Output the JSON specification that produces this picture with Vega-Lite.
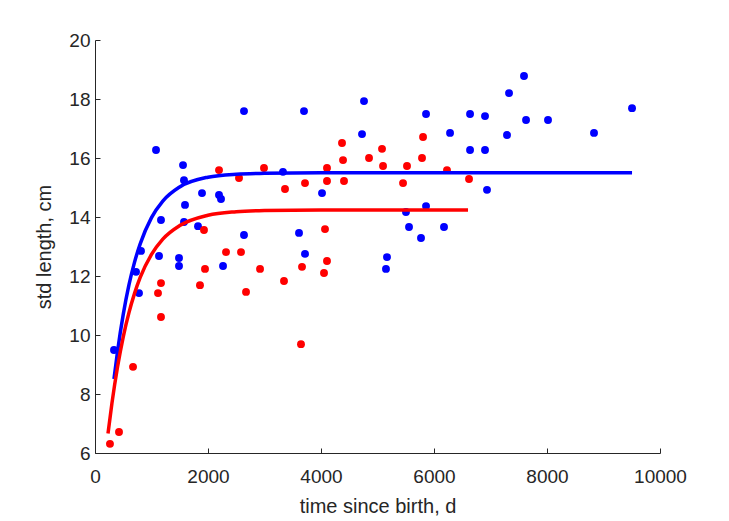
{
  "$schema": "https://vega.github.io/schema/vega-lite/v6.json",
  "width": 565,
  "height": 413,
  "autosize": {"type": "none"},
  "padding": {"left": 95, "top": 40, "right": 69, "bottom": 68},
  "background": "white",
  "config": {
    "view": {"stroke": null},
    "font": "Liberation Sans",
    "axis": {
      "domainColor": "#262626",
      "tickColor": "#262626",
      "labelColor": "#262626",
      "titleColor": "#262626",
      "labelFont": "Liberation Sans",
      "titleFont": "Liberation Sans",
      "labelFontSize": 19,
      "titleFontSize": 20,
      "titleFontWeight": "normal",
      "labelFlush": false,
      "grid": false,
      "domainWidth": 1,
      "tickWidth": 1
    }
  },
  "datasets": {
    "pts": [
      {"t": 336, "L": 9.49, "g": "b"},
      {"t": 726, "L": 12.14, "g": "b"},
      {"t": 779, "L": 11.42, "g": "b"},
      {"t": 814, "L": 12.85, "g": "b"},
      {"t": 1133, "L": 12.68, "g": "b"},
      {"t": 1487, "L": 12.61, "g": "b"},
      {"t": 1487, "L": 12.34, "g": "b"},
      {"t": 2266, "L": 12.34, "g": "b"},
      {"t": 3717, "L": 12.75, "g": "b"},
      {"t": 5168, "L": 12.64, "g": "b"},
      {"t": 5150, "L": 12.24, "g": "b"},
      {"t": 1080, "L": 16.27, "g": "b"},
      {"t": 1558, "L": 15.76, "g": "b"},
      {"t": 1575, "L": 15.25, "g": "b"},
      {"t": 2637, "L": 17.59, "g": "b"},
      {"t": 3699, "L": 17.59, "g": "b"},
      {"t": 4761, "L": 17.93, "g": "b"},
      {"t": 4726, "L": 16.81, "g": "b"},
      {"t": 3327, "L": 15.53, "g": "b"},
      {"t": 1894, "L": 14.81, "g": "b"},
      {"t": 2195, "L": 14.75, "g": "b"},
      {"t": 2230, "L": 14.61, "g": "b"},
      {"t": 1593, "L": 14.41, "g": "b"},
      {"t": 1168, "L": 13.9, "g": "b"},
      {"t": 1575, "L": 13.83, "g": "b"},
      {"t": 1823, "L": 13.69, "g": "b"},
      {"t": 2637, "L": 13.39, "g": "b"},
      {"t": 3611, "L": 13.46, "g": "b"},
      {"t": 4018, "L": 14.81, "g": "b"},
      {"t": 5859, "L": 17.49, "g": "b"},
      {"t": 7593, "L": 18.78, "g": "b"},
      {"t": 7328, "L": 18.2, "g": "b"},
      {"t": 6638, "L": 17.49, "g": "b"},
      {"t": 6903, "L": 17.42, "g": "b"},
      {"t": 7629, "L": 17.29, "g": "b"},
      {"t": 8018, "L": 17.29, "g": "b"},
      {"t": 9505, "L": 17.69, "g": "b"},
      {"t": 6284, "L": 16.85, "g": "b"},
      {"t": 7292, "L": 16.78, "g": "b"},
      {"t": 8832, "L": 16.85, "g": "b"},
      {"t": 6638, "L": 16.27, "g": "b"},
      {"t": 6903, "L": 16.27, "g": "b"},
      {"t": 6938, "L": 14.92, "g": "b"},
      {"t": 5859, "L": 14.37, "g": "b"},
      {"t": 5504, "L": 14.17, "g": "b"},
      {"t": 5558, "L": 13.66, "g": "b"},
      {"t": 6177, "L": 13.66, "g": "b"},
      {"t": 5770, "L": 13.29, "g": "b"},
      {"t": 265, "L": 6.31, "g": "r"},
      {"t": 425, "L": 6.71, "g": "r"},
      {"t": 673, "L": 8.92, "g": "r"},
      {"t": 1115, "L": 11.42, "g": "r"},
      {"t": 1168, "L": 11.76, "g": "r"},
      {"t": 1168, "L": 10.61, "g": "r"},
      {"t": 1858, "L": 11.69, "g": "r"},
      {"t": 1947, "L": 12.24, "g": "r"},
      {"t": 2319, "L": 12.81, "g": "r"},
      {"t": 2584, "L": 12.81, "g": "r"},
      {"t": 2673, "L": 11.46, "g": "r"},
      {"t": 2921, "L": 12.24, "g": "r"},
      {"t": 3345, "L": 11.83, "g": "r"},
      {"t": 3664, "L": 12.31, "g": "r"},
      {"t": 3646, "L": 9.69, "g": "r"},
      {"t": 4053, "L": 12.1, "g": "r"},
      {"t": 4106, "L": 12.51, "g": "r"},
      {"t": 1929, "L": 13.56, "g": "r"},
      {"t": 2195, "L": 15.59, "g": "r"},
      {"t": 2549, "L": 15.32, "g": "r"},
      {"t": 2991, "L": 15.66, "g": "r"},
      {"t": 3363, "L": 14.95, "g": "r"},
      {"t": 3717, "L": 15.15, "g": "r"},
      {"t": 4071, "L": 13.59, "g": "r"},
      {"t": 4106, "L": 15.66, "g": "r"},
      {"t": 4106, "L": 15.22, "g": "r"},
      {"t": 4372, "L": 16.51, "g": "r"},
      {"t": 4390, "L": 15.93, "g": "r"},
      {"t": 4407, "L": 15.22, "g": "r"},
      {"t": 4850, "L": 16.0, "g": "r"},
      {"t": 5080, "L": 16.31, "g": "r"},
      {"t": 5098, "L": 15.73, "g": "r"},
      {"t": 5522, "L": 15.73, "g": "r"},
      {"t": 5806, "L": 16.71, "g": "r"},
      {"t": 5788, "L": 16.0, "g": "r"},
      {"t": 5452, "L": 15.15, "g": "r"},
      {"t": 6230, "L": 15.59, "g": "r"},
      {"t": 6620, "L": 15.29, "g": "r"}
    ],
    "fit": [
      {"t": 336, "L": 8.51, "g": "b"},
      {"t": 400, "L": 9.46, "g": "b"},
      {"t": 500, "L": 10.7, "g": "b"},
      {"t": 600, "L": 11.69, "g": "b"},
      {"t": 700, "L": 12.47, "g": "b"},
      {"t": 800, "L": 13.09, "g": "b"},
      {"t": 1000, "L": 13.98, "g": "b"},
      {"t": 1200, "L": 14.54, "g": "b"},
      {"t": 1500, "L": 15.02, "g": "b"},
      {"t": 2000, "L": 15.35, "g": "b"},
      {"t": 2500, "L": 15.45, "g": "b"},
      {"t": 3000, "L": 15.48, "g": "b"},
      {"t": 4000, "L": 15.5, "g": "b"},
      {"t": 9505, "L": 15.5, "g": "b"},
      {"t": 230, "L": 6.66, "g": "r"},
      {"t": 300, "L": 7.69, "g": "r"},
      {"t": 400, "L": 8.93, "g": "r"},
      {"t": 500, "L": 9.94, "g": "r"},
      {"t": 600, "L": 10.75, "g": "r"},
      {"t": 700, "L": 11.41, "g": "r"},
      {"t": 800, "L": 11.95, "g": "r"},
      {"t": 1000, "L": 12.73, "g": "r"},
      {"t": 1200, "L": 13.25, "g": "r"},
      {"t": 1500, "L": 13.71, "g": "r"},
      {"t": 2000, "L": 14.06, "g": "r"},
      {"t": 2500, "L": 14.18, "g": "r"},
      {"t": 3000, "L": 14.22, "g": "r"},
      {"t": 4000, "L": 14.24, "g": "r"},
      {"t": 6602, "L": 14.24, "g": "r"}
    ]
  },
  "encoding": {
    "x": {
      "field": "t", "type": "quantitative",
      "scale": {"domain": [0, 10000], "nice": false, "zero": false},
      "axis": {"title": "time since birth, d", "values": [0, 2000, 4000, 6000, 8000, 10000], "tickSize": -5, "labelPadding": 19, "titlePadding": 10, "format": "d"}
    },
    "y": {
      "field": "L", "type": "quantitative",
      "scale": {"domain": [6, 20], "nice": false, "zero": false},
      "axis": {"title": "std length, cm", "values": [6, 8, 10, 12, 14, 16, 18, 20], "tickSize": -5, "labelPadding": 10, "titlePadding": 14}
    },
    "color": {
      "field": "g", "type": "nominal",
      "scale": {"domain": ["b", "r"], "range": ["#0000ff", "#ff0000"]},
      "legend": null
    }
  },
  "layer": [
    {
      "data": {"name": "pts"},
      "mark": {"type": "circle", "size": 62, "opacity": 1}
    },
    {
      "data": {"name": "fit"},
      "mark": {"type": "line", "strokeWidth": 3.5, "interpolate": "monotone"},
      "encoding": {"detail": {"field": "g"}}
    }
  ]
}
